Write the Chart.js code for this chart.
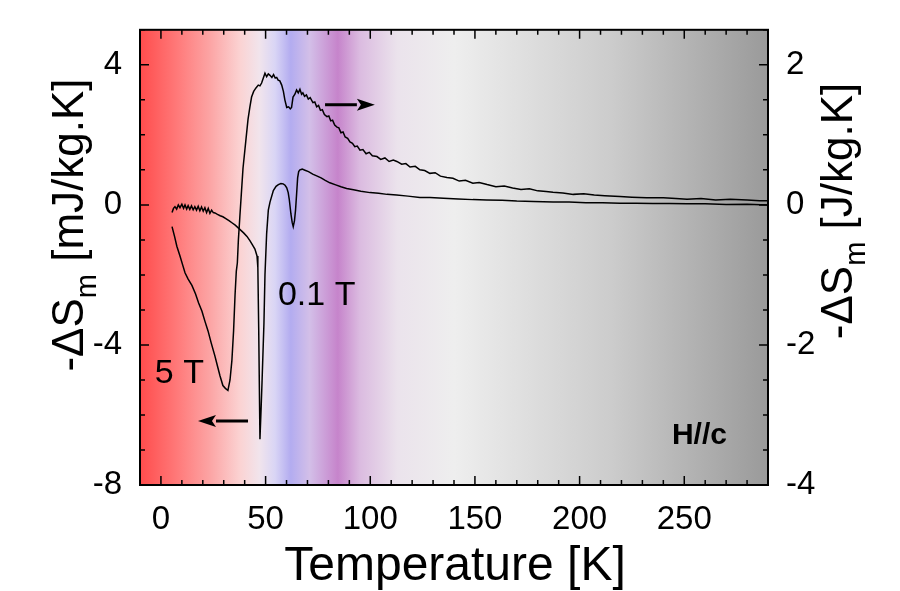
<!DOCTYPE html>
<html>
<head>
<meta charset="utf-8">
<script src="https://cdn.jsdelivr.net/npm/chart.js@4.4.1/dist/chart.umd.min.js"></script>
<style>
body{margin:0;background:#fff}
canvas{display:block}
</style>
</head>
<body>
<canvas id="chart" width="900" height="591"></canvas>
<script>
// 5 T curve, right axis [J/kg.K]
const temp5T=[5.3,6.5,7.6,9.1,10.3,11.5,13.0,14.8,16.5,18.0,19.6,21.0,22.5,24.0,25.8,27.0,28.2,29.6,30.8,32.0,33.0,33.9,34.7,35.4,36.0,36.5,37.0,37.7,38.5,39.2,40.5,41.6,42.5,43.3,44.3,45.4,46.5,47.3,48.1,49.0,49.7,50.5,51.3,52.1,53.0,53.8,54.6,55.3,56.0,56.8,57.7,58.5,59.2,60.1,61.0,61.8,62.4,63.1,64.0,64.8,65.6,66.4,67.2,67.8,68.6,69.5,70.4,71.3,72.6,73.5,74.4,75.3,76.2,77.1,78.1,79.3,80.2,81.1,82.0,83.0,84.1,85.0,86.0,87.0,88.0,89.2,90.3,91.5,92.6,93.8,95.1,96.5,98.0,99.5,101.0,103.2,105.0,107.0,109.0,111.0,112.7,115.0,117.0,119.0,121.5,123.7,126.0,128.5,131.0,133.5,136.6,139.5,142.5,145.5,149.0,152.0,155.8,160,164,168,172,176,180,184,187.3,192,197,202,207,212,219.3,225,232,240,246,251.3,258,265,272,280,286,290];
const ds5T=[-0.31,-0.45,-0.59,-0.73,-0.85,-0.97,-1.06,-1.15,-1.27,-1.40,-1.52,-1.66,-1.80,-1.97,-2.16,-2.30,-2.44,-2.58,-2.62,-2.65,-2.50,-2.22,-1.80,-1.29,-0.95,-0.83,-0.50,-0.17,0.20,0.52,0.90,1.22,1.40,1.54,1.62,1.67,1.71,1.70,1.74,1.82,1.88,1.83,1.87,1.85,1.82,1.86,1.81,1.82,1.78,1.77,1.71,1.62,1.50,1.39,1.40,1.37,1.39,1.54,1.58,1.64,1.60,1.65,1.58,1.60,1.55,1.57,1.51,1.53,1.46,1.47,1.40,1.42,1.35,1.36,1.29,1.26,1.27,1.20,1.21,1.14,1.11,1.10,1.03,1.04,0.97,0.95,0.90,0.88,0.83,0.84,0.78,0.79,0.73,0.75,0.70,0.69,0.65,0.67,0.62,0.64,0.62,0.58,0.59,0.54,0.55,0.50,0.49,0.45,0.46,0.41,0.39,0.38,0.34,0.35,0.31,0.32,0.29,0.26,0.27,0.24,0.22,0.23,0.20,0.19,0.18,0.17,0.15,0.16,0.14,0.13,0.12,0.11,0.10,0.10,0.09,0.08,0.09,0.07,0.08,0.07,0.06,0.06];

// 0.1 T curve, left axis [mJ/kg.K]
const temp01T=[5.3,6.0,6.7,7.5,8.3,9.1,10.0,10.8,11.5,12.3,13.0,13.8,14.6,15.4,16.2,17.0,17.8,18.6,19.4,20.2,21.0,21.8,22.6,23.4,24.2,25.0,25.8,27.0,28.3,29.6,31.0,32.5,33.9,35.5,37.7,39.5,41.1,42.5,43.5,44.9,45.9,46.3,46.7,47.3,47.8,48.3,49.2,49.7,50.5,51.3,52.1,53.7,55.0,56.1,57.3,58.4,59.3,60.1,60.8,61.3,62.1,62.7,63.2,63.8,64.3,64.8,65.3,65.8,66.4,67.5,68.8,70.5,72.5,74.4,76.5,78.5,80.7,83.5,86.0,88.7,92.0,95.5,99.9,104,108,112.6,118,123.7,128.5,135,142,149,155.6,163,170,178,187.4,195,203,211,219.3,227,235,243,251.2,260,270,280,290];
const ds01T=[-0.22,-0.10,-0.05,-0.12,0.00,-0.08,0.02,-0.10,0.00,-0.12,-0.02,-0.13,-0.03,-0.14,-0.05,-0.15,-0.04,-0.17,-0.06,-0.18,-0.08,-0.22,-0.10,-0.24,-0.15,-0.22,-0.23,-0.27,-0.31,-0.34,-0.39,-0.45,-0.51,-0.58,-0.70,-0.80,-0.90,-1.02,-1.12,-1.26,-1.46,-1.79,-3.5,-6.69,-5.9,-5.05,-3.40,-2.0,-0.82,-0.15,0.08,0.41,0.53,0.58,0.61,0.60,0.56,0.49,0.35,0.16,-0.26,-0.50,-0.62,-0.45,-0.15,0.30,0.77,0.95,1.00,1.02,0.99,0.95,0.88,0.83,0.77,0.70,0.63,0.57,0.52,0.47,0.43,0.39,0.35,0.33,0.30,0.28,0.25,0.21,0.21,0.19,0.17,0.15,0.14,0.13,0.11,0.10,0.08,0.08,0.06,0.06,0.05,0.05,0.04,0.04,0.03,0.03,0.01,0.02,0.00];

const xTicks=[0,50,100,150,200,250];
const yLeftTicks=[-8,-4,0,4];
const yRightTicks=[-4,-2,0,2];

const FONT="'Liberation Sans', Arial, sans-serif";

function pts(xs,ys){
    return xs.map((x,i)=>({x:x,y:ys[i]}));
}

const bgPlugin={
    id:"bg",
    beforeDatasetsDraw(chart){
        const {ctx,chartArea:a}=chart;
        const g=ctx.createLinearGradient(a.left,0,a.right,0);
        g.addColorStop(0,"#ff4c4c");
        g.addColorStop(0.06,"#ff7a7a");
        g.addColorStop(0.11,"#fca3a3");
        g.addColorStop(0.16,"#fbd3d3");
        g.addColorStop(0.19,"#f1e4ec");
        g.addColorStop(0.215,"#d9d5f5");
        g.addColorStop(0.24,"#b3acf0");
        g.addColorStop(0.27,"#d3bfe8");
        g.addColorStop(0.315,"#c684cb");
        g.addColorStop(0.35,"#dbbbe0");
        g.addColorStop(0.41,"#ebe3ec");
        g.addColorStop(0.50,"#eeeeee");
        g.addColorStop(0.75,"#cccccc");
        g.addColorStop(1,"#9a9a9a");
        ctx.save();
        ctx.fillStyle=g;
        ctx.fillRect(a.left,a.top,a.right-a.left,a.bottom-a.top);
        ctx.restore();
    }
};

const framePlugin={
    id:"frame",
    afterDatasetsDraw(chart){
        const {ctx,chartArea:a,scales}=chart;
        ctx.save();
        ctx.strokeStyle="#000";
        ctx.lineWidth=1.5;
        ctx.beginPath();
        for(let v=-10;v<=290;v+=10){
            const px=scales.x.getPixelForValue(v);
            const len=v%50===0?9:5;
            ctx.moveTo(px,a.bottom);ctx.lineTo(px,a.bottom-len);
            ctx.moveTo(px,a.top);ctx.lineTo(px,a.top+len);
        }
        for(let v=-8;v<=5;v+=1){
            const py=scales.y.getPixelForValue(v);
            const len=v%4===0?9:5;
            ctx.moveTo(a.left,py);ctx.lineTo(a.left+len,py);
        }
        for(let v=-4;v<=2.5;v+=0.5){
            const py=scales.y2.getPixelForValue(v);
            const len=v%2===0?9:5;
            ctx.moveTo(a.right,py);ctx.lineTo(a.right-len,py);
        }
        ctx.stroke();
        ctx.lineWidth=2;
        ctx.strokeRect(a.left,a.top,a.right-a.left,a.bottom-a.top);
        ctx.restore();
    }
};

function vTitle(ctx,cx,baseX,parts){
    // text rotated -90deg, baseline at screen x = baseX
    ctx.save();
    let total=0;
    parts.forEach(p=>{ctx.font=p.font;total+=ctx.measureText(p.t).width;});
    ctx.translate(baseX,cx);
    ctx.rotate(-Math.PI/2);
    ctx.textBaseline="alphabetic";
    ctx.textAlign="left";
    ctx.fillStyle="#000";
    let pos=-total/2;
    parts.forEach(p=>{
        ctx.font=p.font;
        ctx.fillText(p.t,pos,p.dy||0);
        pos+=ctx.measureText(p.t).width;
    });
    ctx.restore();
}

function arrow(ctx,x1,y,x2){
    const dir=x2>x1?1:-1;
    const head=18;
    ctx.beginPath();
    ctx.moveTo(x1,y);ctx.lineTo(x2-dir*head,y);
    ctx.stroke();
    ctx.beginPath();
    ctx.moveTo(x2,y);
    ctx.lineTo(x2-dir*head,y-6);
    ctx.lineTo(x2-dir*(head-4),y);
    ctx.lineTo(x2-dir*head,y+6);
    ctx.closePath();
    ctx.fill();
}

const textPlugin={
    id:"texts",
    afterDraw(chart){
        const {ctx,scales}=chart;
        const X=v=>scales.x.getPixelForValue(v);
        const Y=v=>scales.y.getPixelForValue(v);
        ctx.save();
        ctx.fillStyle="#000";
        ctx.strokeStyle="#000";
        ctx.textBaseline="alphabetic";
        ctx.textAlign="center";
        ctx.font="48px "+FONT;
        ctx.fillText("Temperature [K]",455,580);

        const big="44px "+FONT, sub="29px "+FONT;
        vTitle(ctx,225,83,[{t:"-\u0394S",font:big},{t:"m",font:sub,dy:13},{t:" [mJ/kg.K]",font:big}]);
        vTitle(ctx,211,852,[{t:"-\u0394S",font:big},{t:"m",font:sub,dy:13},{t:" [J/kg.K]",font:big}]);

        ctx.textAlign="left";
        ctx.font="34px "+FONT;
        ctx.fillText("5 T",X(-2.9),Y(-5.08));
        ctx.fillText("0.1 T",X(55.9),Y(-2.85));
        ctx.font="bold 30px "+FONT;
        ctx.fillText("H//c",X(244.1),Y(-6.84));

        ctx.lineWidth=3;
        arrow(ctx,X(78.4),Y(2.86),X(102.2));
        arrow(ctx,X(41.6),Y(-6.17),X(17.7));
        ctx.restore();
    }
};

new Chart(document.getElementById("chart"),{
    type:"scatter",
    data:{
        datasets:[
            {label:"5 T",data:pts(temp5T,ds5T),yAxisID:"y2",showLine:true,borderColor:"#000",borderWidth:1.5,pointRadius:0,tension:0},
            {label:"0.1 T",data:pts(temp01T,ds01T),yAxisID:"y",showLine:true,borderColor:"#000",borderWidth:1.5,pointRadius:0,tension:0}
        ]
    },
    options:{
        responsive:false,
        animation:false,
        layout:{padding:{top:18,left:0,right:0,bottom:0}},
        plugins:{legend:{display:false},tooltip:{enabled:false}},
        scales:{
            x:{
                type:"linear",position:"bottom",min:-10,max:290,
                grid:{display:false},border:{display:false},
                afterBuildTicks:s=>{s.ticks=xTicks.map(v=>({value:v}));},
                afterFit:s=>{s.height=106;},
                ticks:{color:"#000",font:{family:FONT,size:33},padding:7,maxRotation:0}
            },
            y:{
                type:"linear",position:"left",min:-8,max:5,
                grid:{display:false},border:{display:false},
                afterBuildTicks:s=>{s.ticks=yLeftTicks.map(v=>({value:v}));},
                afterFit:s=>{s.width=140;},
                ticks:{color:"#000",font:{family:FONT,size:33},padding:10}
            },
            y2:{
                type:"linear",position:"right",min:-4,max:2.5,
                grid:{display:false},border:{display:false},
                afterBuildTicks:s=>{s.ticks=yRightTicks.map(v=>({value:v}));},
                afterFit:s=>{s.width=132;},
                ticks:{color:"#000",font:{family:FONT,size:33},padding:10}
            }
        }
    },
    plugins:[bgPlugin,framePlugin,textPlugin]
});
</script>
</body>
</html>
